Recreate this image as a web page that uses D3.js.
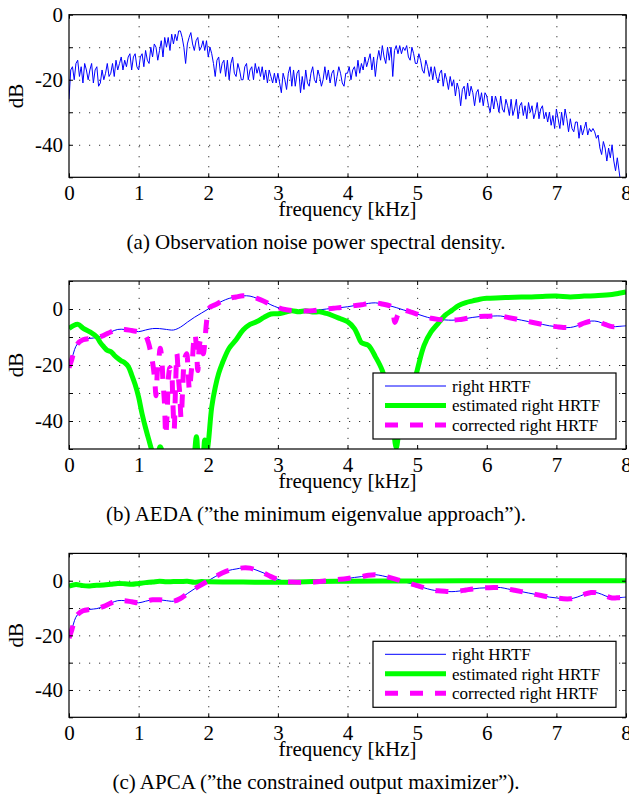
<!DOCTYPE html>
<html>
<head>
<meta charset="utf-8">
<script src="https://cdn.jsdelivr.net/npm/d3@7"></script>
<style>
    html, body { margin: 0; padding: 0; background: #fff; }
    svg { display: block; }
    text { font-family: "Liberation Serif", "Times New Roman", serif; fill: #000; }
</style>
</head>
<body>
<svg id="chart" width="629" height="796"></svg>
<script>
(function(){
    'use strict';

    // (a) observation noise PSD in dB, one sample every 0.025 kHz starting at 0
    var noiseStep = 0.025;
    var noiseDb = [
        -26, -17, -16, -20, -15, -14, -19, -16, -21, -15,
        -17, -20, -17, -15, -21, -17, -16, -22, -21, -17,
        -20, -18, -15, -19, -18, -15, -19, -14, -17, -15,
        -13, -17, -14, -16, -13, -12, -17, -13, -12, -16,
        -17, -13, -12, -16, -11, -14, -15, -10, -13, -9,
        -10, -14, -11, -8, -13, -7, -10, -7, -11, -6,
        -9, -6, -8, -5, -5, -7, -10, -15, -9, -7,
        -5.5, -9, -11, -8, -7, -11, -10, -8, -11, -8,
        -13, -10, -12, -15, -19, -14, -13, -18, -15, -14,
        -19, -14, -20, -15, -13, -18, -19, -15, -17, -20,
        -20, -16, -15, -20, -17, -16, -20, -15, -18, -16,
        -19, -16, -20, -17, -21, -17, -19, -21, -18, -21,
        -18, -21, -24, -18, -20, -23, -18, -16, -22, -17,
        -22, -18, -17, -24, -19, -23, -17, -21, -22, -18,
        -16, -20, -21, -17, -19, -22, -20, -16, -20, -17,
        -21, -18, -17, -22, -19, -16, -18, -21, -22, -18,
        -18, -16, -20, -17, -16, -19, -14, -18, -15, -17,
        -13, -16, -14, -12, -17, -13, -19, -14, -11, -14,
        -9.5, -13, -15, -10, -14, -10, -19, -11, -9.5, -12,
        -9.5, -12, -10, -11, -9.5, -13, -14, -10, -12, -15,
        -15, -12, -14, -17, -18, -14, -16, -19, -16, -20,
        -16, -19, -21, -18, -17, -22, -18, -20, -23, -19,
        -22, -20, -25, -21, -23, -28, -23, -22, -26, -21,
        -25, -22, -24, -28, -24, -23, -27, -24, -28, -24,
        -25, -28, -30, -25, -29, -25, -27, -30, -25, -29,
        -30, -26, -28, -31, -26, -31, -29, -26, -32, -28,
        -27, -31, -28, -32, -27, -30, -28, -32, -30, -27,
        -32, -29, -28, -32, -30, -33, -30, -34, -31, -35,
        -29, -32, -35, -30, -34, -29, -32, -36, -32, -35,
        -36, -33, -33, -38, -34, -37, -35, -33, -37, -35,
        -36, -35, -36, -38, -37, -41, -43, -39, -41, -45,
        -41, -44, -40, -45, -48, -44, -48, -52
    ];

    // [kHz, dB]
    var hrtfRight = [
        [0,-21],[0.04,-18],[0.08,-14.5],[0.12,-12.5],[0.2,-11],[0.3,-10.5],[0.4,-10.2],
        [0.5,-9.4],[0.6,-8.2],[0.7,-7.3],[0.8,-7.3],[0.9,-7.7],[1.0,-8.1],[1.1,-7.5],
        [1.2,-7],[1.3,-7],[1.4,-7.3],[1.5,-7.5],[1.6,-6.5],[1.7,-4.7],[1.8,-3],[1.9,-1.5],
        [2.0,0],[2.1,1.5],[2.2,2.8],[2.3,3.8],[2.4,4.3],[2.5,4.7],[2.6,4.6],[2.7,3.8],
        [2.8,2.8],[2.9,1.5],[3.0,0.5],[3.1,-0.2],[3.2,-0.5],[3.3,-0.6],[3.4,-0.7],[3.5,-0.6],
        [3.6,-0.3],[3.7,0],[3.8,0.3],[3.9,0.5],[4.0,0.8],[4.1,1.2],[4.2,1.5],[4.3,2],
        [4.4,2.2],[4.5,1.8],[4.6,1.2],[4.7,0.5],[4.8,-0.3],[4.9,-1],[5.0,-1.8],[5.1,-2.6],
        [5.2,-3.3],[5.3,-3.7],[5.4,-3.9],[5.5,-4],[5.6,-3.8],[5.7,-3.4],[5.8,-3],[5.9,-2.7],
        [6.0,-2.6],[6.1,-2.5],[6.2,-2.5],[6.3,-3],[6.4,-3.5],[6.5,-4],[6.6,-4.5],[6.7,-5],
        [6.8,-5.5],[6.9,-6],[7.0,-6.3],[7.1,-6.6],[7.2,-6.6],[7.3,-6],[7.4,-5],[7.5,-4.3],
        [7.6,-4.5],[7.7,-5.5],[7.8,-6.3],[7.9,-6.2],[8.0,-6]
    ];

    // (b) AEDA
    var aedaEstimated = [
        [0,-7],[0.06,-6],[0.13,-5.5],[0.2,-6.8],[0.3,-8.2],[0.4,-10],[0.45,-12],[0.5,-13.5],
        [0.55,-14.8],[0.6,-15.2],[0.65,-16.5],[0.7,-17.6],[0.75,-18.5],[0.8,-19.2],[0.85,-20.5],
        [0.9,-23.5],[0.95,-27],[1.0,-31.5],[1.05,-37.5],[1.1,-42.5],[1.15,-47],[1.2,-51],
        [1.26,-53],[1.31,-49.2],[1.36,-53],[1.5,-60],[1.7,-58],[1.79,-53],[1.83,-45.6],
        [1.87,-53],[1.92,-52],[1.95,-46.8],[1.98,-51],[2.0,-48],[2.05,-35],[2.1,-28],
        [2.15,-23],[2.2,-19.5],[2.3,-14],[2.4,-11],[2.5,-7.5],[2.6,-5.5],[2.7,-4.5],
        [2.8,-3],[2.9,-1.8],[3.0,-1.7],[3.1,-1.2],[3.2,-0.6],[3.3,-1],[3.4,-0.6],[3.5,-1.1],
        [3.6,-1],[3.7,-1.6],[3.8,-2.5],[3.9,-3.5],[4.0,-4.5],[4.1,-7],[4.15,-9.5],[4.2,-12],
        [4.3,-13],[4.4,-17],[4.5,-22],[4.6,-31.4],[4.65,-40],[4.7,-49.5],[4.75,-42],
        [4.8,-38.6],[4.9,-31.4],[5.0,-22],[5.1,-13],[5.2,-8.2],[5.3,-5.2],[5.4,-2.3],
        [5.5,-0.5],[5.6,1.3],[5.7,2.3],[5.8,2.9],[5.9,3.5],[6.0,3.8],[6.2,4.0],[6.4,4.2],
        [6.6,4.3],[6.8,4.5],[7.0,4.6],[7.2,4.3],[7.4,4.6],[7.6,4.8],[7.8,5.2],[7.9,5.6],[8.0,6.1]
    ];
    var aedaCorrected = [
        [0,-21],[0.04,-18],[0.08,-14.5],[0.12,-12.5],[0.2,-11],[0.3,-10.5],[0.4,-10.2],
        [0.5,-9.4],[0.6,-8.2],[0.7,-7.3],[0.8,-7.3],[0.9,-7.7],[1.0,-8.1],[1.05,-8.4],
        [1.1,-9.5],[1.14,-12],[1.17,-15],[1.2,-19],[1.23,-25],[1.25,-31],[1.27,-22],
        [1.29,-18],[1.31,-14],[1.33,-17],[1.35,-26],[1.37,-33],[1.39,-45],[1.41,-37],
        [1.43,-24],[1.45,-21],[1.47,-22],[1.49,-32],[1.51,-43],[1.53,-28],[1.55,-16],
        [1.57,-24],[1.59,-30],[1.61,-39],[1.63,-30],[1.65,-20],[1.67,-17],[1.69,-16],
        [1.71,-22],[1.73,-29],[1.75,-24],[1.77,-19],[1.79,-12],[1.81,-9],[1.83,-14],
        [1.85,-22],[1.87,-14],[1.89,-11],[1.91,-12],[1.93,-16],[1.95,-12],[1.97,-6],
        [1.99,-2],[2.02,0.5],[2.1,1.5],[2.2,2.8],[2.3,3.8],[2.4,4.3],[2.5,4.7],[2.6,4.6],
        [2.7,3.8],[2.8,2.8],[2.9,1.5],[3.0,0.5],[3.1,-0.2],[3.2,-0.5],[3.3,-0.6],[3.4,-0.7],
        [3.5,-0.6],[3.6,-0.3],[3.7,0],[3.8,0.3],[3.9,0.5],[4.0,0.8],[4.1,1.2],[4.2,1.5],
        [4.3,2],[4.4,2.2],[4.5,1.8],[4.6,1.2],[4.64,0.6],[4.68,-4.8],[4.72,-2.2],
        [4.76,-0.2],[4.8,-0.3],[4.9,-1],[5.0,-1.8],[5.1,-2.6],[5.2,-3.3],[5.3,-3.7],
        [5.4,-3.9],[5.5,-4],[5.6,-3.8],[5.7,-3.4],[5.8,-3],[5.9,-2.7],[6.0,-2.6],[6.1,-2.5],
        [6.2,-2.5],[6.3,-3],[6.4,-3.5],[6.5,-4],[6.6,-4.5],[6.7,-5],[6.8,-5.5],[6.9,-6],
        [7.0,-6.3],[7.1,-6.6],[7.2,-6.6],[7.3,-6],[7.4,-5],[7.5,-4.3],[7.6,-4.5],[7.7,-5.5],
        [7.8,-6.3],[7.9,-6.2],[8.0,-6]
    ];

    // (c) APCA, corrected curve sits on top of the true HRTF
    var apcaEstimated = [
        [0,-2],[0.1,-1.4],[0.2,-1.8],[0.3,-1.9],[0.4,-1.7],[0.5,-1.6],[0.6,-1.3],[0.7,-1.0],
        [0.8,-1.1],[0.9,-1.3],[1.0,-1.0],[1.1,-0.7],[1.2,-0.5],[1.3,-0.2],[1.4,-0.4],[1.5,-0.3],
        [1.6,-0.3],[1.7,-0.2],[1.8,-0.6],[1.9,-0.3],[2.0,-0.4],[2.5,-0.5],[3.0,-0.6],
        [3.5,-0.3],[4.0,-0.2],[4.5,-0.1],[5.0,-0.1],[6.0,0],[7.0,0],[8.0,0]
    ];
    var apcaCorrected = hrtfRight;

    var xTicks = [0, 1, 2, 3, 4, 5, 6, 7, 8];
    var yTicksA = [-50, -40, -30, -20, -10, 0];
    var yTicksBC = [-50, -40, -30, -20, -10, 0, 10];
    var yLabelled = [0, -20, -40];
    var legendLabels = [ 'right HRTF', 'estimated right HRTF', 'corrected right HRTF' ];
    var captions = [
        '(a) Observation noise power spectral density.',
        '(b) AEDA (\u201dthe minimum eigenvalue approach\u201d).',
        '(c) APCA (\u201dthe constrained output maximizer\u201d).'
    ];

    var left = 69, right = 626,
        font = '"Liberation Serif", "Times New Roman", serif',
        styles = [
            { stroke: '#0000ff', width: 1, dash: null },
            { stroke: '#00ff00', width: 5, dash: null },
            { stroke: '#ff00ff', width: 5, dash: '13,12' }
        ];

    var svg = d3.select( '#chart' );
    svg.append( 'rect' ).attr( 'width', 629 ).attr( 'height', 796 ).attr( 'fill', '#fff' );

    var x = d3.scaleLinear().domain( [0, 8] ).range( [left, right] );

    function panel( id, top, bottom, yTicks, caption ){
        var w = right - left,
            h = bottom - top,
            y = d3.scaleLinear().domain( [-50, yTicks[yTicks.length - 1]] ).range( [bottom, top] ),
            g = svg.append( 'g' ).attr( 'class', 'panel' );

        g.append( 'clipPath' ).attr( 'id', 'clip-' + id )
            .append( 'rect' )
            .attr( 'x', left ).attr( 'y', top )
            .attr( 'width', w ).attr( 'height', h );

        // dotted grid
        g.append( 'g' ).attr( 'class', 'grid' )
            .attr( 'transform', 'translate(0,' + bottom + ')' )
            .call( d3.axisBottom( x ).tickValues( xTicks.slice( 1, -1 ) ).tickSize( -h ).tickFormat( '' ) );
        g.append( 'g' ).attr( 'class', 'grid' )
            .attr( 'transform', 'translate(' + left + ',0)' )
            .call( d3.axisLeft( y ).tickValues( yTicks.slice( 1, -1 ) ).tickSize( -w ).tickFormat( '' ) );
        g.selectAll( '.grid .domain' ).remove();
        g.selectAll( '.grid line' )
            .attr( 'stroke', '#333' )
            .attr( 'stroke-width', 1 )
            .attr( 'stroke-dasharray', '1.2,8.8' );

        var plot = g.append( 'g' ).attr( 'clip-path', 'url(#clip-' + id + ')' );

        // axes, ticks pointing inwards on all four sides
        var axes = g.append( 'g' ).attr( 'class', 'axes' );
        axes.append( 'g' ).attr( 'transform', 'translate(0,' + bottom + ')' )
            .call( d3.axisBottom( x ).tickValues( xTicks ).tickSize( -4 ).tickSizeOuter( 0 ).tickPadding( 8 ).tickFormat( String ) );
        axes.append( 'g' ).attr( 'transform', 'translate(0,' + top + ')' )
            .call( d3.axisTop( x ).tickValues( xTicks ).tickSize( -4 ).tickSizeOuter( 0 ).tickFormat( '' ) );
        axes.append( 'g' ).attr( 'transform', 'translate(' + left + ',0)' )
            .call( d3.axisLeft( y ).tickValues( yTicks ).tickSize( -4 ).tickSizeOuter( 0 ).tickPadding( 6 )
                .tickFormat( function( d ){ return yLabelled.indexOf( d ) >= 0 ? String( d ) : ''; } ) );
        axes.append( 'g' ).attr( 'transform', 'translate(' + right + ',0)' )
            .call( d3.axisRight( y ).tickValues( yTicks ).tickSize( -4 ).tickSizeOuter( 0 ).tickFormat( '' ) );
        axes.selectAll( '.domain' ).remove();
        axes.selectAll( 'g' ).attr( 'font-family', font ).attr( 'font-size', 21 );

        g.append( 'rect' )
            .attr( 'x', left ).attr( 'y', top )
            .attr( 'width', w ).attr( 'height', h )
            .attr( 'fill', 'none' )
            .attr( 'stroke', '#000' )
            .attr( 'stroke-width', 1.2 );

        g.append( 'text' )
            .attr( 'transform', 'translate(23,' + ( ( top + bottom ) / 2 ) + ') rotate(-90)' )
            .attr( 'text-anchor', 'middle' )
            .attr( 'font-size', 21 )
            .text( 'dB' );

        g.append( 'text' )
            .attr( 'x', ( left + right ) / 2 )
            .attr( 'y', bottom + 39 )
            .attr( 'text-anchor', 'middle' )
            .attr( 'font-size', 21 )
            .text( 'frequency [kHz]' );

        g.append( 'text' )
            .attr( 'x', 316 )
            .attr( 'y', bottom + 72 )
            .attr( 'text-anchor', 'middle' )
            .attr( 'font-size', 21 )
            .text( caption );

        return { g: g, y: y, plot: plot, bottom: bottom };
    }

    function curve( p, data, style, smooth ){
        var line = d3.line()
            .x( function( d ){ return x( d[0] ); } )
            .y( function( d ){ return p.y( d[1] ); } )
            .curve( smooth ? d3.curveCatmullRom.alpha( 0.5 ) : d3.curveLinear );

        p.plot.append( 'path' )
            .datum( data )
            .attr( 'd', line )
            .attr( 'fill', 'none' )
            .attr( 'stroke', style.stroke )
            .attr( 'stroke-width', style.width )
            .attr( 'stroke-dasharray', style.dash )
            .attr( 'stroke-linejoin', 'round' );
    }

    function legend( p ){
        var lw = 243, lh = 66,
            lg = p.g.append( 'g' )
                .attr( 'transform', 'translate(' + ( right - 10 - lw ) + ',' + ( p.bottom - 10 - lh ) + ')' );

        lg.append( 'rect' )
            .attr( 'width', lw ).attr( 'height', lh )
            .attr( 'fill', '#fff' )
            .attr( 'stroke', '#000' )
            .attr( 'stroke-width', 1.2 );

        var rows = lg.selectAll( 'g.item' )
            .data( legendLabels )
            .enter().append( 'g' )
            .attr( 'class', 'item' )
            .attr( 'transform', function( d, i ){ return 'translate(0,' + ( 13 + i * 19.5 ) + ')'; } );

        rows.append( 'line' )
            .attr( 'x1', 12 ).attr( 'x2', 73 )
            .attr( 'stroke', function( d, i ){ return styles[i].stroke; } )
            .attr( 'stroke-width', function( d, i ){ return styles[i].width; } )
            .attr( 'stroke-dasharray', function( d, i ){ return styles[i].dash; } );

        rows.append( 'text' )
            .attr( 'x', 79 )
            .attr( 'dy', '0.35em' )
            .attr( 'font-size', 17 )
            .text( function( d ){ return d; } );
    }

    // (a)
    var pa = panel( 'a', 14.7, 177.3, yTicksA, captions[0] );
    curve( pa, noiseDb.map( function( v, i ){ return [i * noiseStep, v]; } ), styles[0], false );

    // (b)
    var pb = panel( 'b', 281, 449, yTicksBC, captions[1] );
    curve( pb, hrtfRight, styles[0], true );
    curve( pb, aedaEstimated, styles[1], true );
    curve( pb, aedaCorrected, styles[2], true );
    legend( pb );

    // (c)
    var pc = panel( 'c', 553.4, 717.3, yTicksBC, captions[2] );
    curve( pc, hrtfRight, styles[0], true );
    curve( pc, apcaEstimated, styles[1], true );
    curve( pc, apcaCorrected, styles[2], true );
    legend( pc );
})();
</script>
</body>
</html>
